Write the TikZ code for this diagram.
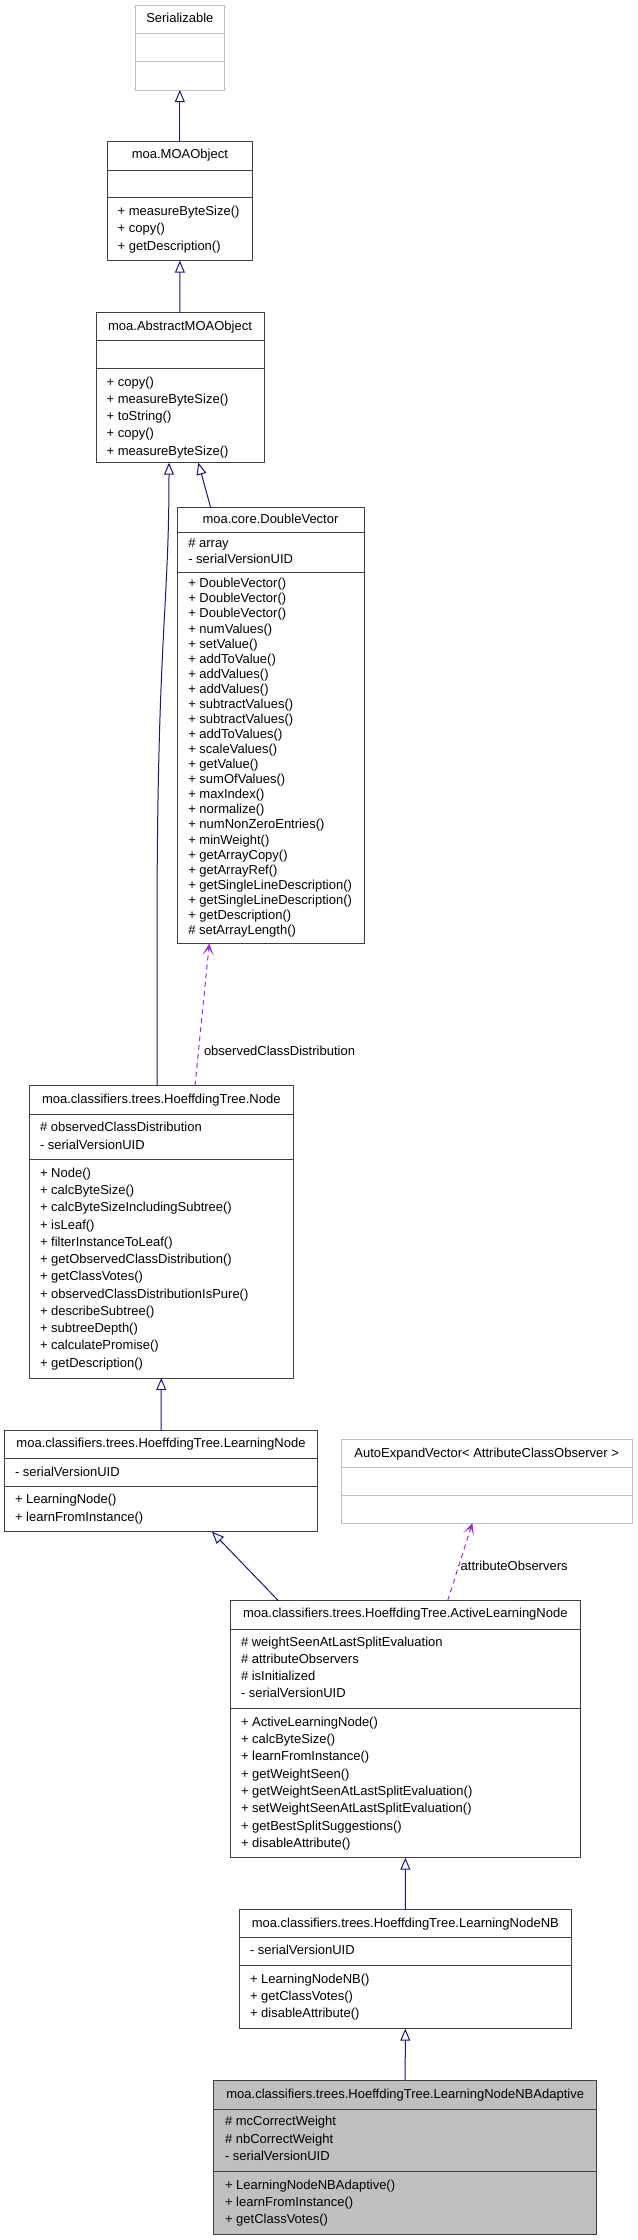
\documentclass[tikz,border=0pt]{standalone}
\usepackage{fontspec}
\setmainfont{Liberation Sans}
\usetikzlibrary{arrows.meta}
\definecolor{edgeblue}{HTML}{191970}
\definecolor{usepurple}{HTML}{9A32CD}
\definecolor{lgray}{HTML}{BFBFBF}
\definecolor{bdark}{HTML}{404040}

\tikzset{
  txt/.style={inner sep=0pt, outer sep=0pt, font=\fontsize{13}{15}\selectfont, text=black},
  cls/.style={draw=bdark, fill=white, line width=1pt, inner sep=0pt, outer sep=0pt},
  clsline/.style={draw=bdark, line width=1pt},
  clsg/.style={draw=lgray, fill=white, line width=1pt, inner sep=0pt, outer sep=0pt},
  clsgline/.style={draw=lgray, line width=1pt},
  clsf/.style={draw=bdark, fill=lgray, line width=1pt, inner sep=0pt, outer sep=0pt},
  clsfline/.style={draw=bdark, line width=1pt},
  inh/.style={draw=edgeblue, line width=1pt, -{Triangle[open, length=12pt, width=10pt]}},
  use/.style={draw=usepurple, line width=1pt, dash pattern=on 5pt off 4pt,
    -{Stealth[length=12pt, width=11pt, inset=7pt]}},
}

% name, L, T, R, B, div1, div2, style
\newcommand\umlbox[8]{%
  \node[#8, minimum width={#4-#2}, minimum height={#5-#3}, anchor=north west] (#1) at (#2,#3) {};
  \draw[#8line] (#1.west |- 0,#6) -- (#1.east |- 0,#6);
  \draw[#8line] (#1.west |- 0,#7) -- (#1.east |- 0,#7);
}
% name, y center, text
\newcommand\umltitle[3]{%
  \node[txt, anchor=base] (#1-t) at (#1.north |- 0,{#2+4.5}) {#3};
}
% name, x, y0, dy, list
\newcommand\umllines[5]{%
  \foreach \t [count=\i from 0] in {#5} {%
    \node[txt, anchor=base west] (#1-\i) at ({#2},{#3+\i*#4+4.5}) {\t};
  }%
}

\begin{document}
\begin{tikzpicture}[x=1pt, y=-1pt]
\useasboundingbox (0,0) rectangle (637,2240);

% Serializable
\umlbox{ser}{135}{5.7}{224.7}{90}{33.7}{61.7}{clsg}
\umltitle{ser}{18.3}{Serializable}

% moa.MOAObject
\umlbox{mo}{107}{141.7}{252.7}{260.7}{170}{197.7}{cls}
\umltitle{mo}{154.3}{moa.MOAObject}
\umllines{mo-m}{117.7}{210.7}{17.6}{+ measureByteSize(), + copy(), + getDescription()}

% moa.AbstractMOAObject
\umlbox{amo}{96}{312.7}{264}{462.7}{340.7}{368.7}{cls}
\umltitle{amo}{325.7}{moa.AbstractMOAObject}
\umllines{amo-m}{106.7}{381.7}{17.25}{+ copy(), + measureByteSize(), + toString(), + copy(), + measureByteSize()}

% moa.core.DoubleVector
\umlbox{dv}{177}{507.7}{364}{943.3}{532.3}{572}{cls}
\umltitle{dv}{519}{moa.core.DoubleVector}
\umllines{dv-a}{188.3}{543.3}{15.4}{\# array, - serialVersionUID}
\umllines{dv-m}{188.3}{583.3}{15.07}{+ DoubleVector(), + DoubleVector(), + DoubleVector(), + numValues(), + setValue(), + addToValue(), + addValues(), + addValues(), + subtractValues(), + subtractValues(), + addToValues(), + scaleValues(), + getValue(), + sumOfValues(), + maxIndex(), + normalize(), + numNonZeroEntries(), + minWeight(), + getArrayCopy(), + getArrayRef(), + getSingleLineDescription(), + getSingleLineDescription(), + getDescription(), \# setArrayLength()}

% HoeffdingTree.Node
\umlbox{nd}{29.3}{1085.7}{293.3}{1378}{1114}{1159.3}{cls}
\umltitle{nd}{1098.7}{moa.classifiers.trees.HoeffdingTree.Node}
\umllines{nd-a}{40}{1126.7}{18}{\# observedClassDistribution, - serialVersionUID}
\umllines{nd-m}{40}{1172.7}{17.27}{+ Node(), + calcByteSize(), + calcByteSizeIncludingSubtree(), + isLeaf(), + filterInstanceToLeaf(), + getObservedClassDistribution(), + getClassVotes(), + observedClassDistributionIsPure(), + describeSubtree(), + subtreeDepth(), + calculatePromise(), + getDescription()}

% HoeffdingTree.LearningNode
\umlbox{ln}{4.3}{1430.7}{317.7}{1531.7}{1458.7}{1486.7}{cls}
\umltitle{ln}{1443.3}{moa.classifiers.trees.HoeffdingTree.LearningNode}
\umllines{ln-a}{15}{1471.7}{17.4}{- serialVersionUID}
\umllines{ln-m}{15}{1499.3}{17.4}{+ LearningNode(), + learnFromInstance()}

% AutoExpandVector
\umlbox{aev}{341.3}{1439.3}{632}{1523}{1467.7}{1495.3}{clsg}
\umltitle{aev}{1452.7}{AutoExpandVector< AttributeClassObserver >}

% HoeffdingTree.ActiveLearningNode
\umlbox{aln}{230}{1600.7}{580.7}{1857.7}{1629}{1708.3}{cls}
\umltitle{aln}{1613.3}{moa.classifiers.trees.HoeffdingTree.ActiveLearningNode}
\umllines{aln-a}{241}{1641.7}{17.2}{\# weightSeenAtLastSplitEvaluation, \# attributeObservers, \# isInitialized, - serialVersionUID}
\umllines{aln-m}{241}{1721.7}{17.3}{+ ActiveLearningNode(), + calcByteSize(), + learnFromInstance(), + getWeightSeen(), + getWeightSeenAtLastSplitEvaluation(), + setWeightSeenAtLastSplitEvaluation(), + getBestSplitSuggestions(), + disableAttribute()}

% HoeffdingTree.LearningNodeNB
\umlbox{nb}{239.3}{1909.7}{571.3}{2028.7}{1937.7}{1965.7}{cls}
\umltitle{nb}{1922.7}{moa.classifiers.trees.HoeffdingTree.LearningNodeNB}
\umllines{nb-a}{250}{1950}{17.3}{- serialVersionUID}
\umllines{nb-m}{250}{1978.7}{17.3}{+ LearningNodeNB(), + getClassVotes(), + disableAttribute()}

% HoeffdingTree.LearningNodeNBAdaptive
\umlbox{nba}{213.7}{2080.7}{596.7}{2234}{2109}{2171.3}{clsf}
\umltitle{nba}{2093.7}{moa.classifiers.trees.HoeffdingTree.LearningNodeNBAdaptive}
\umllines{nba-a}{225}{2121.3}{17.3}{\# mcCorrectWeight, \# nbCorrectWeight, - serialVersionUID}
\umllines{nba-m}{225}{2184.7}{17.3}{+ LearningNodeNBAdaptive(), + learnFromInstance(), + getClassVotes()}

% connectors
\draw[inh] (mo.north) -- (ser.south);
\draw[inh] (amo.north) -- (mo.south);
\draw[inh] ([xshift=-4.3pt]nd.north) -- ([xshift=-4.3pt, yshift=150pt]nd.north)
  .. controls ([xshift=-4.3pt, yshift=450pt]nd.north) and ([xshift=-11pt, yshift=-150pt]amo.south)
  .. ([xshift=-11pt]amo.south);
\draw[inh] ([xshift=-59.8pt]dv.north) -- ([xshift=18.3pt]amo.south);
\draw[use] ([xshift=33.7pt]nd.north) -- ([xshift=-61.2pt]dv.south);
\node[txt, anchor=base west] (lbl-ocd) at (204,1055.2) {observedClassDistribution};
\draw[inh] (ln.north) -- (nd.south);
\draw[inh] ([xshift=-127pt]aln.north) -- ([xshift=51pt]ln.south);
\draw[use] ([xshift=42.3pt]aln.north) -- ([xshift=-14.3pt]aev.south);
\node[txt, anchor=base west] (lbl-ao) at (460.7,1570.2) {attributeObservers};
\draw[inh] (nb.north) -- (aln.south);
\draw[inh] (nba.north) -- (nb.south);
\end{tikzpicture}
\end{document}
